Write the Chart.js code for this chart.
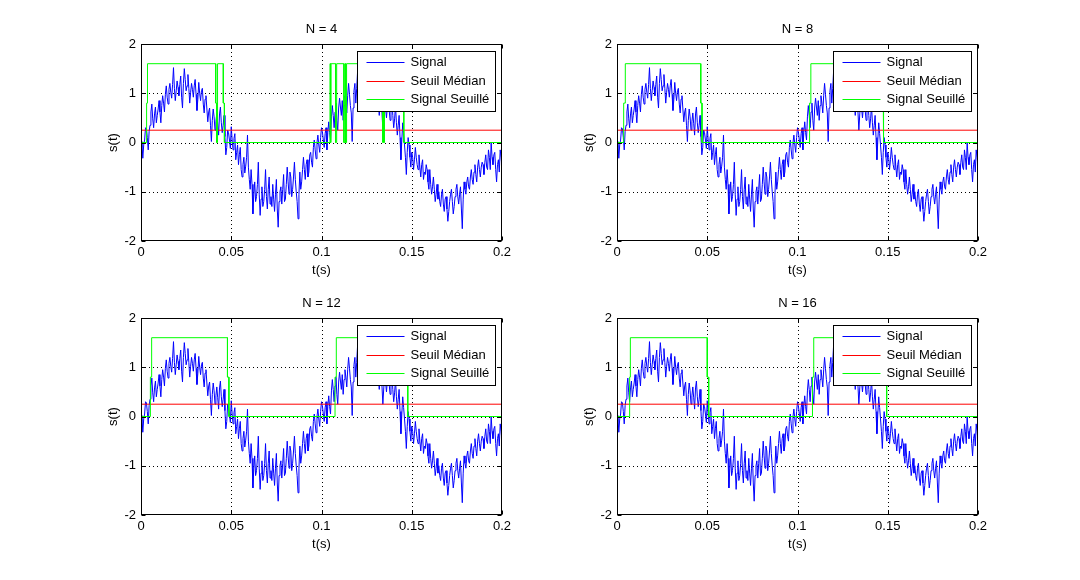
<!DOCTYPE html>
<html>
<head>
<meta charset="utf-8">
<script src="https://cdn.jsdelivr.net/npm/chart.js@4.4.0/dist/chart.umd.min.js"></script>
<style>
  body { margin: 0; background: #fff; width: 1080px; height: 580px; overflow: hidden; position: relative; }
  canvas { position: absolute; }
</style>
</head>
<body>
<canvas id="c4" width="540" height="290" style="left:0px;top:0px"></canvas>
<canvas id="c8" width="540" height="290" style="left:476px;top:0px"></canvas>
<canvas id="c12" width="540" height="290" style="left:0px;top:274px"></canvas>
<canvas id="c16" width="540" height="290" style="left:476px;top:274px"></canvas>
<script>
// sampling step of the signal (s)
const dt = 0.0005;

// noisy signal s(t), one value every 0.5 ms from 0 to 0.2 s
const signal = [
  -0.10, 0.02, -0.32, -0.05, 0.05, 0.30, 0.28, 0.10, -0.15, 0.22, 0.35, 0.62, 0.78, 0.48, 0.30, 0.58, 0.72, 0.40, 0.55, 0.68,
  0.85, 0.62, 0.40, 0.75, 0.95, 0.80, 0.62, 0.98, 1.15, 0.92, 0.78, 1.08, 1.20, 1.02, 0.90, 1.18, 1.52, 1.10, 0.85, 1.05,
  1.25, 1.12, 0.95, 1.18, 1.35, 0.92, 0.70, 1.20, 1.50, 1.28, 1.05, 1.15, 1.38, 1.10, 0.80, 1.02, 1.20, 1.08, 0.92, 1.15,
  1.28, 0.98, 0.65, 0.88, 1.22, 1.00, 0.85, 1.05, 1.10, 0.78, 0.60, 0.88, 0.95, 0.68, 0.42, 0.62, 0.70, 0.35, 0.02, 0.45,
  0.68, 0.52, 0.25, 0.42, 0.60, 0.38, 0.15, 0.58, 0.72, 0.40, 0.20, 0.35, 0.55, 0.12, -0.25, -0.10, 0.25, 0.20, 0.05, -0.12,
  0.32, 0.05, -0.15, 0.08, 0.18, -0.35, -0.20, -0.05, -0.45, -0.25, -0.10, -0.55, -0.70, -0.45, -0.30, -0.62, -0.48, -0.30, 0.15, -0.50,
  -0.75, -0.95, -0.55, -0.85, -1.45, -1.05, -0.80, -1.20, -1.10, -0.85, -0.40, -1.05, -1.48, -1.15, -0.90, -1.30, -1.20, -0.95, -0.55, -1.10,
  -1.35, -0.95, -0.70, -1.25, -1.10, -1.30, -0.85, -1.15, -1.40, -1.05, -0.75, -1.35, -1.72, -1.20, -1.00, -0.90, -1.25, -0.95, -0.65, -1.20,
  -1.15, -0.85, -0.50, -0.80, -1.05, -0.60, -0.70, -1.10, -0.95, -0.70, -0.40, -0.75, -1.00, -1.20, -1.55, -1.05, -0.60, -0.95, -0.80, -0.55,
  -0.30, -0.55, -0.75, -0.45, -0.35, -0.70, -0.60, -0.25, -0.20, -0.40, -0.50, -0.10, 0.05, -0.15, -0.33, 0.00, 0.15, -0.05, -0.20, 0.10,
  0.30, 0.22, 0.05, -0.10, 0.18, 0.30, -0.15, 0.20, 0.42, 0.20, 0.05, 0.52, 0.75, 0.55, 0.30, 0.62, 0.80, 0.45, 0.25, 0.70,
  0.90, 0.72, 0.55, 0.85, 0.45, 0.75, 0.95, 0.80, 0.60, 0.95, 1.20, 0.98, 0.75, 0.60, 0.02, 0.70, 1.05, 1.20, 0.80, 1.10,
  1.45, 1.15, 0.95, 1.25, 1.30, 1.05, 1.00, 1.20, 1.40, 1.10, 0.85, 1.02, 1.15, 0.95, 0.90, 1.10, 1.25, 1.00, 0.70, 0.92,
  1.10, 0.85, 0.95, 0.78, 0.55, 0.80, 1.05, 0.62, 0.25, 0.58, 0.80, 0.70, 0.50, 0.72, 0.95, 0.65, 0.45, 0.62, 0.85, 0.55,
  0.30, 0.48, 0.75, 0.40, 0.15, 0.35, 0.55, 0.10, -0.35, 0.05, 0.40, 0.18, -0.05, -0.30, -0.65, -0.20, 0.10, -0.05, -0.30, -0.50,
  -0.20, -0.30, -0.55, -0.35, -0.10, -0.30, -0.45, -0.55, -0.25, -0.50, -0.70, -0.45, -0.35, -0.75, -0.60, -0.65, -0.45, -0.55, -0.80, -0.95,
  -0.55, -0.85, -1.05, -0.90, -0.70, -0.95, -1.20, -1.05, -0.85, -1.15, -1.00, -1.20, -1.30, -1.05, -0.95, -1.25, -1.40, -1.15, -1.10, -1.35,
  -1.60, -1.40, -1.20, -1.05, -0.95, -1.20, -1.45, -1.30, -1.10, -0.95, -0.85, -1.10, -1.25, -1.05, -0.90, -1.35, -1.75, -1.15, -0.80, -0.95,
  -1.05, -0.80, -0.70, -0.90, -0.95, -0.70, -0.55, -0.75, -0.85, -0.60, -0.45, -0.65, -0.80, -0.50, -0.35, -0.55, -0.70, -0.50, -0.40, -0.45,
  -0.65, -0.40, -0.25, -0.50, -0.55, -0.15, -0.30, -0.55, 0.00, -0.30, -0.45, -0.25, -0.20, -0.55, -0.80, -0.45, -0.35, -0.60, -0.15, -0.30,
  -0.50
];

// median threshold
const seuilMedian = 0.25;

// thresholded signal: switching times (s) and the level held from each time on
const seuille4T = [0, 0.0031, 0.0036, 0.0414, 0.0419, 0.0424, 0.0456, 0.0462,
  0.1047, 0.1050, 0.1053, 0.1078, 0.1084, 0.1124, 0.1130, 0.1134, 0.1139,
  0.1336, 0.1340, 0.1344, 0.1349, 0.1449, 0.1456];
const seuille4V = [0, 0.8, 1.6, 0.8, 0, 1.6, 0.8, 0,
  1.6, 0, 1.6, 0, 1.6, 0, 1.6, 0, 1.6,
  0, 1.6, 0, 1.6, 0.8, 0];
const seuille8T = [0, 0.0037, 0.0046, 0.0464, 0.0471, 0.1067, 0.1074, 0.1474, 0.1478];
const seuille8V = [0, 0.8, 1.6, 0.8, 0, 0.8, 1.6, 0.8, 0];
const seuille12T = [0, 0.0052, 0.0059, 0.0479, 0.0487, 0.1075, 0.1082, 0.1471, 0.1478];
const seuille12V = [0, 0.8, 1.6, 0.8, 0, 0.8, 1.6, 0.8, 0];
const seuille16T = [0, 0.0070, 0.0074, 0.0500, 0.0508, 0.1083, 0.1090, 0.1487, 0.1494];
const seuille16V = [0, 0.8, 1.6, 0.8, 0, 0.8, 1.6, 0.8, 0];

const xTicks = { min: 0, max: 0.2, step: 0.05 };
const yTicks = { min: -2, max: 2, step: 1 };
const legendLabels = ['Signal', 'Seuil M\u00e9dian', 'Signal Seuill\u00e9'];
const colors = ['#0000ff', '#ff0000', '#00ff00'];

Chart.defaults.font.family = "'Liberation Sans', Arial, sans-serif";
Chart.defaults.font.size = 13;
Chart.defaults.color = '#000';

// matlab-like axes: dotted grid, full box, inner ticks, titles and boxed legend
const matlabAxes = {
  id: 'matlabAxes',
  beforeDatasetsDraw(chart) {
    const { ctx, chartArea: a, scales: { x, y } } = chart;
    ctx.save();
    ctx.strokeStyle = '#000';
    ctx.lineWidth = 1;
    ctx.setLineDash([1, 3]);
    ctx.beginPath();
    x.ticks.forEach(t => {
      const px = Math.round(x.getPixelForValue(t.value)) + 0.5;
      if (px > a.left + 2 && px < a.right - 2) { ctx.moveTo(px, a.top); ctx.lineTo(px, a.bottom); }
    });
    y.ticks.forEach(t => {
      const py = Math.round(y.getPixelForValue(t.value)) + 0.5;
      if (py > a.top + 2 && py < a.bottom - 2) { ctx.moveTo(a.left, py); ctx.lineTo(a.right, py); }
    });
    ctx.stroke();
    ctx.restore();
  },
  afterDatasetsDraw(chart, args, opts) {
    const { ctx, chartArea: a, scales: { x, y } } = chart;
    const L = Math.round(a.left) + 0.5, R = Math.round(a.right) - 0.5;
    const T = Math.round(a.top) + 0.5, B = Math.round(a.bottom) - 0.5;
    ctx.save();
    ctx.strokeStyle = '#000';
    ctx.lineWidth = 1;
    ctx.strokeRect(L, T, R - L, B - T);
    // inner ticks
    ctx.beginPath();
    x.ticks.forEach(t => {
      const px = Math.round(x.getPixelForValue(t.value)) + 0.5;
      ctx.moveTo(px, B); ctx.lineTo(px, B - 4);
      ctx.moveTo(px, T); ctx.lineTo(px, T + 4);
    });
    y.ticks.forEach(t => {
      const py = Math.round(y.getPixelForValue(t.value)) + 0.5;
      ctx.moveTo(L, py); ctx.lineTo(L + 4, py);
      ctx.moveTo(R, py); ctx.lineTo(R - 4, py);
    });
    ctx.stroke();

    // titles
    ctx.fillStyle = '#000';
    ctx.font = "13px 'Liberation Sans', Arial, sans-serif";
    ctx.textAlign = 'center';
    ctx.textBaseline = 'middle';
    ctx.fillText(opts.title, (a.left + a.right) / 2, a.top - 15);
    ctx.fillText('t(s)', (a.left + a.right) / 2, a.bottom + 29);
    ctx.save();
    ctx.translate(a.left - 28, (a.top + a.bottom) / 2);
    ctx.rotate(-Math.PI / 2);
    ctx.fillText('s(t)', 0, 0);
    ctx.restore();

    // legend
    const w = 138, h = 60;
    const x0 = Math.round(a.right) - 7 - w + 0.5, y0 = Math.round(a.top) + 7 + 0.5;
    ctx.fillStyle = '#fff';
    ctx.fillRect(x0, y0, w, h);
    ctx.strokeRect(x0, y0, w, h);
    ctx.textAlign = 'left';
    legendLabels.forEach((lab, i) => {
      const ly = Math.round(y0 + 10.5 + i * 18.5) + 0.5;
      ctx.strokeStyle = colors[i];
      ctx.beginPath();
      ctx.moveTo(x0 + 9, ly); ctx.lineTo(x0 + 47, ly);
      ctx.stroke();
      ctx.fillStyle = '#000';
      ctx.fillText(lab, x0 + 53, ly);
    });
    ctx.restore();
  }
};

function stepPoints(times, levels) {
  const pts = [];
  times.forEach((t, i) => {
    if (i > 0) pts.push({ x: t, y: levels[i - 1] });
    pts.push({ x: t, y: levels[i] });
  });
  pts.push({ x: xTicks.max, y: levels[levels.length - 1] });
  return pts;
}

function makeChart(id, title, gT, gV) {
  const sig = signal.map((v, i) => ({ x: i * dt, y: v }));
  const red = [{ x: xTicks.min, y: seuilMedian }, { x: xTicks.max, y: seuilMedian }];
  const line = (data, c, order) => ({
    data, borderColor: c, borderWidth: 1, pointRadius: 0, tension: 0, fill: false, order
  });
  new Chart(document.getElementById(id), {
    type: 'line',
    data: {
      datasets: [
        line(sig, colors[0], 3),
        line(red, colors[1], 2),
        line(stepPoints(gT, gV), colors[2], 1)
      ]
    },
    options: {
      responsive: false,
      animation: false,
      events: [],
      layout: { padding: { left: 0, top: 44, right: 38, bottom: 0 } },
      plugins: { legend: { display: false }, tooltip: { enabled: false }, matlabAxes: { title } },
      scales: {
        x: {
          type: 'linear', min: xTicks.min, max: xTicks.max,
          ticks: { stepSize: xTicks.step, padding: 4, maxRotation: 0, callback: v => String(+v.toFixed(2)) },
          grid: { display: false, drawTicks: false },
          border: { display: false },
          afterFit: s => { s.height = 49; }
        },
        y: {
          min: yTicks.min, max: yTicks.max,
          ticks: { stepSize: yTicks.step, padding: 5 },
          grid: { display: false, drawTicks: false },
          border: { display: false },
          afterFit: s => { s.width = 141; }
        }
      }
    },
    plugins: [matlabAxes]
  });
}

makeChart('c4', 'N = 4', seuille4T, seuille4V);
makeChart('c8', 'N = 8', seuille8T, seuille8V);
makeChart('c12', 'N = 12', seuille12T, seuille12V);
makeChart('c16', 'N = 16', seuille16T, seuille16V);
</script>
</body>
</html>
